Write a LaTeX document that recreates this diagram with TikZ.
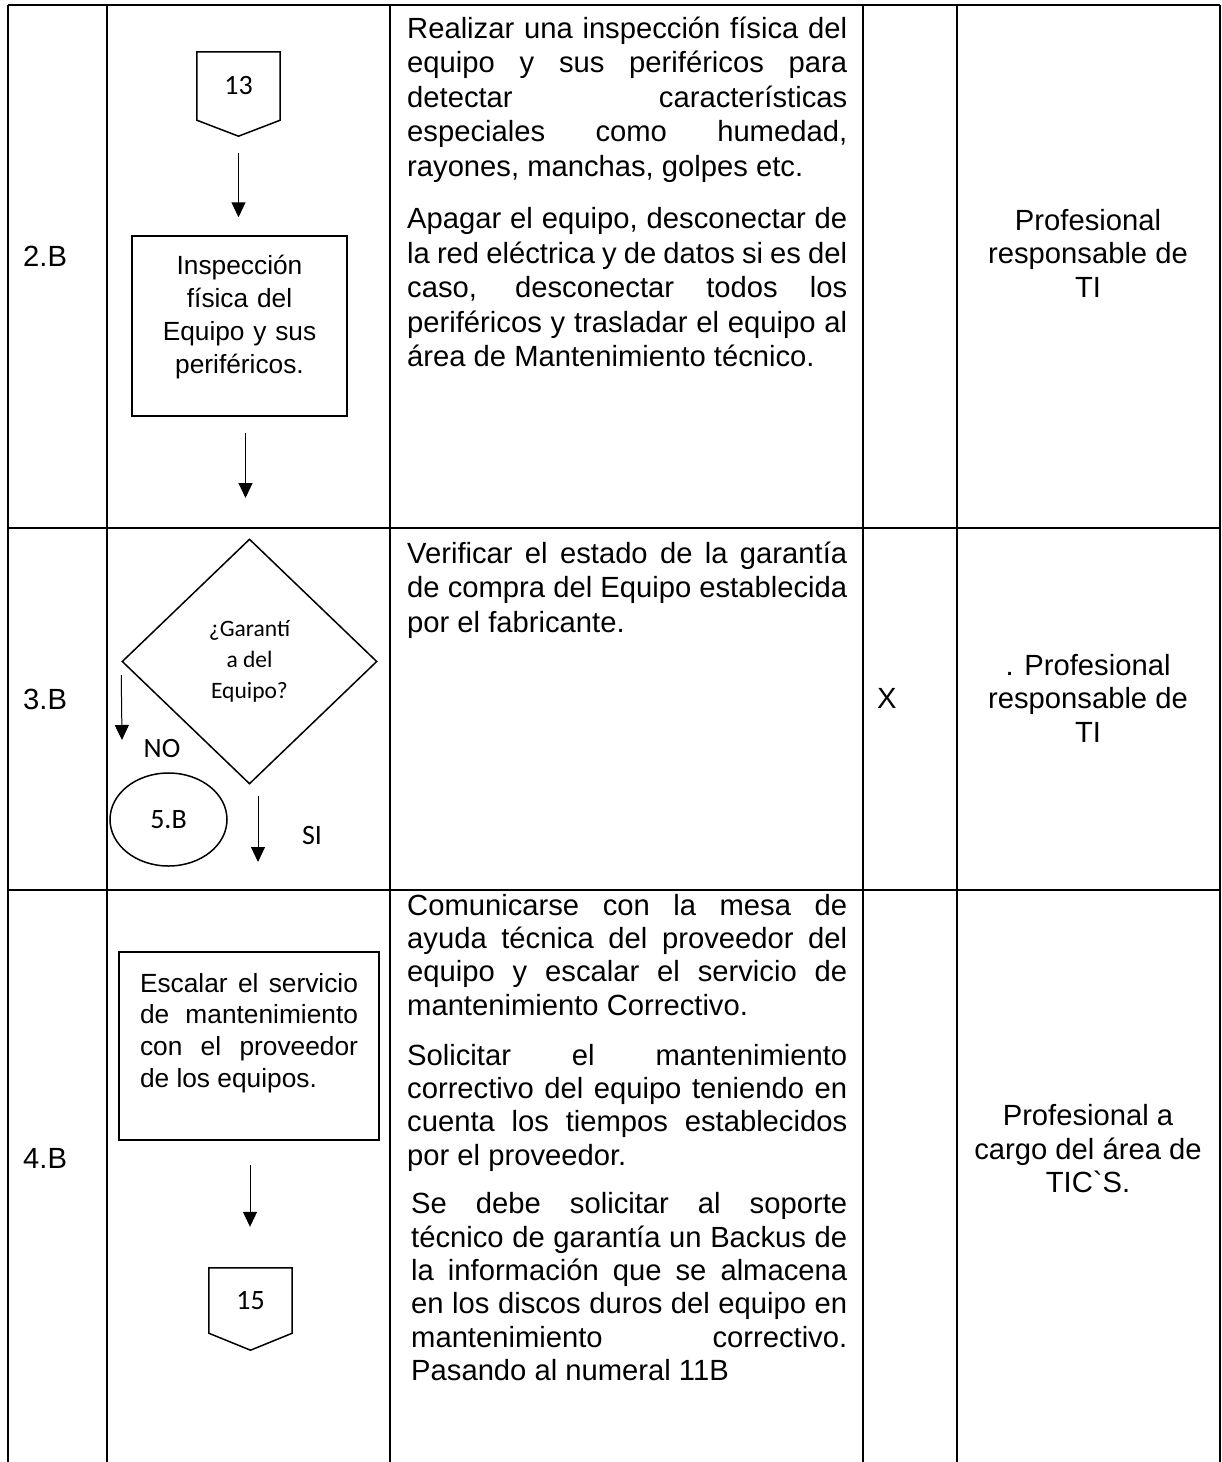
\documentclass[tikz,border=0pt]{standalone}
\usepackage{fontspec}
\setmainfont{Liberation Sans}
\newfontfamily\carlito{Carlito}
\usetikzlibrary{shapes.geometric,arrows.meta}
\tolerance=10000
\hbadness=10000
\hyphenpenalty=10000

\begin{document}
\begin{tikzpicture}[x=1pt, y=-1pt,
  tabla/.style={line width=2pt},
  borde/.style={line width=1.5pt},
  flecha/.style={line width=1pt, -{Triangle[length=15pt,width=14pt]}},
  arial/.style={font=\fontsize{29.2}{34.5}\selectfont},
  calibri/.style={font=\carlito\fontsize{28}{33}\selectfont},
  desc/.style={arial, text width=440pt, align=justify, inner sep=0pt, anchor=base west},
  resp/.style={font=\fontsize{29.2}{33.5}\selectfont, align=center, inner sep=0pt},
  fila/.style={arial, anchor=west, inner sep=0pt},
  caja/.style={draw, borde, align=center, font=\fontsize{26.3}{33.3}\selectfont},
  conector/.style={calibri, minimum width=83pt, minimum height=68pt, inner sep=0pt},
  decision/.style={draw, borde, diamond, minimum width=255pt, minimum height=245pt,
    inner sep=0pt, align=center, font=\carlito\fontsize{23.5}{30.7}\selectfont}]
\useasboundingbox (0,0) rectangle (1222,1462);

% tabla
\foreach \x in {8,107,390,863,957,1220}
  \draw[tabla] (\x,5) -- (\x,1462);
\foreach \y in {5,528,890}
  \draw[tabla] (8,\y) -- (1220,\y);

% numeral de cada paso
\node[fila] (n2b) at (23,256) {2.B};
\node[fila] (n3b) at (23,699) {3.B};
\node[fila] (n4b) at (23,1158) {4.B};

% paso 2.B
\node[conector] (c13) at (238.5,86) {13};
\draw[borde] (c13.north west) -- (c13.north east) -- (c13.south east)
  -- ([yshift=-16pt]c13.south) -- (c13.south west) -- cycle;
\node[caja, text width=195pt, minimum width=215pt, minimum height=180pt] (inspeccion) at (239.5,326)
  {Inspección\\física del\\Equipo y sus\\periféricos.\\[-10pt]\mbox{}};
\coordinate (sale2b) at (245.5,498);
\draw[flecha] ([yshift=-33pt]c13.south) -- ([xshift=-1pt,yshift=18pt]inspeccion.north);
\draw[flecha] ([xshift=6pt,yshift=-16pt]inspeccion.south) -- (sale2b);

% paso 3.B
\node[decision] (garantia) at (249.5,661.5) {¿Garantí\\a del\\Equipo?};
\node[draw, borde, ellipse, calibri, minimum width=117pt, minimum height=93pt, inner sep=0pt] (e5b) at (168.5,819.5) {5.B};
\node[calibri] (no) at (162,748) {NO};
\node[calibri] (si) at (312,835) {SI};
\coordinate (puntono) at (122,740);
\coordinate (puntosi) at (258,862);
\draw[flecha] ([yshift=-13.5pt]garantia.west) -- (puntono);
\draw[flecha] ([xshift=8.5pt,yshift=-11pt]garantia.south) -- (puntosi);

% paso 4.B
\node[caja, text width=218pt, align=justify, minimum width=260pt, minimum height=188pt,
  font=\fontsize{26.3}{31.7}\selectfont] (escalar) at (249,1046)
  {Escalar el servicio\linebreak de mantenimiento\linebreak con el proveedor\linebreak de los equipos.\par\mbox{}};
\node[conector, minimum height=65pt] (c15) at (250.5,1300.5) {15};
\draw[borde] (c15.north west) -- (c15.north east) -- (c15.south east)
  -- ([yshift=-17pt]c15.south) -- (c15.south west) -- cycle;
\draw[flecha] ([xshift=1pt,yshift=-24pt]escalar.south) -- ([xshift=-0.5pt,yshift=41pt]c15.north);

% descripciones
\node[desc] (d2b) at (407,38) {Realizar una inspección física del\linebreak
equipo y sus periféricos para\linebreak
detectar características\linebreak
especiales como humedad,\linebreak
rayones, manchas, golpes etc.\par\vspace{18pt}
Apagar el equipo, desconectar de\linebreak
la red eléctrica y de datos si es del\linebreak
caso, desconectar todos los\linebreak
periféricos y trasladar el equipo al\linebreak
área de Mantenimiento técnico.};

\node[desc] (d3b) at (407,563) {Verificar el estado de la garantía\linebreak
de compra del Equipo establecida\linebreak
por el fabricante.};

\node[desc, font=\fontsize{29.2}{33.4}\selectfont] (d4b) at (407,915) {Comunicarse con la mesa de\linebreak
ayuda técnica del proveedor del\linebreak
equipo y escalar el servicio de\linebreak
mantenimiento Correctivo.\par\vspace{16.5pt}
Solicitar el mantenimiento\linebreak
correctivo del equipo teniendo en\linebreak
cuenta los tiempos establecidos\linebreak
por el proveedor.\par\vspace{15pt}
{\leftskip=4pt Se debe solicitar al soporte\linebreak
técnico de garantía un Backus de\linebreak
la información que se almacena\linebreak
en los discos duros del equipo en\linebreak
mantenimiento correctivo.\linebreak
Pasando al numeral 11B\par}};

% registro y responsable
\node[fila] (x3b) at (877,698) {X};
\node[resp] (r2b) at (1088,253) {Profesional\\responsable de\\TI};
\node[resp] (r3b) at (1088,698) {. Profesional\\responsable de\\TI};
\node[resp] (r4b) at (1088,1149) {Profesional a\\cargo del área de\\TIC\textasciigrave S.};
\end{tikzpicture}
\end{document}
